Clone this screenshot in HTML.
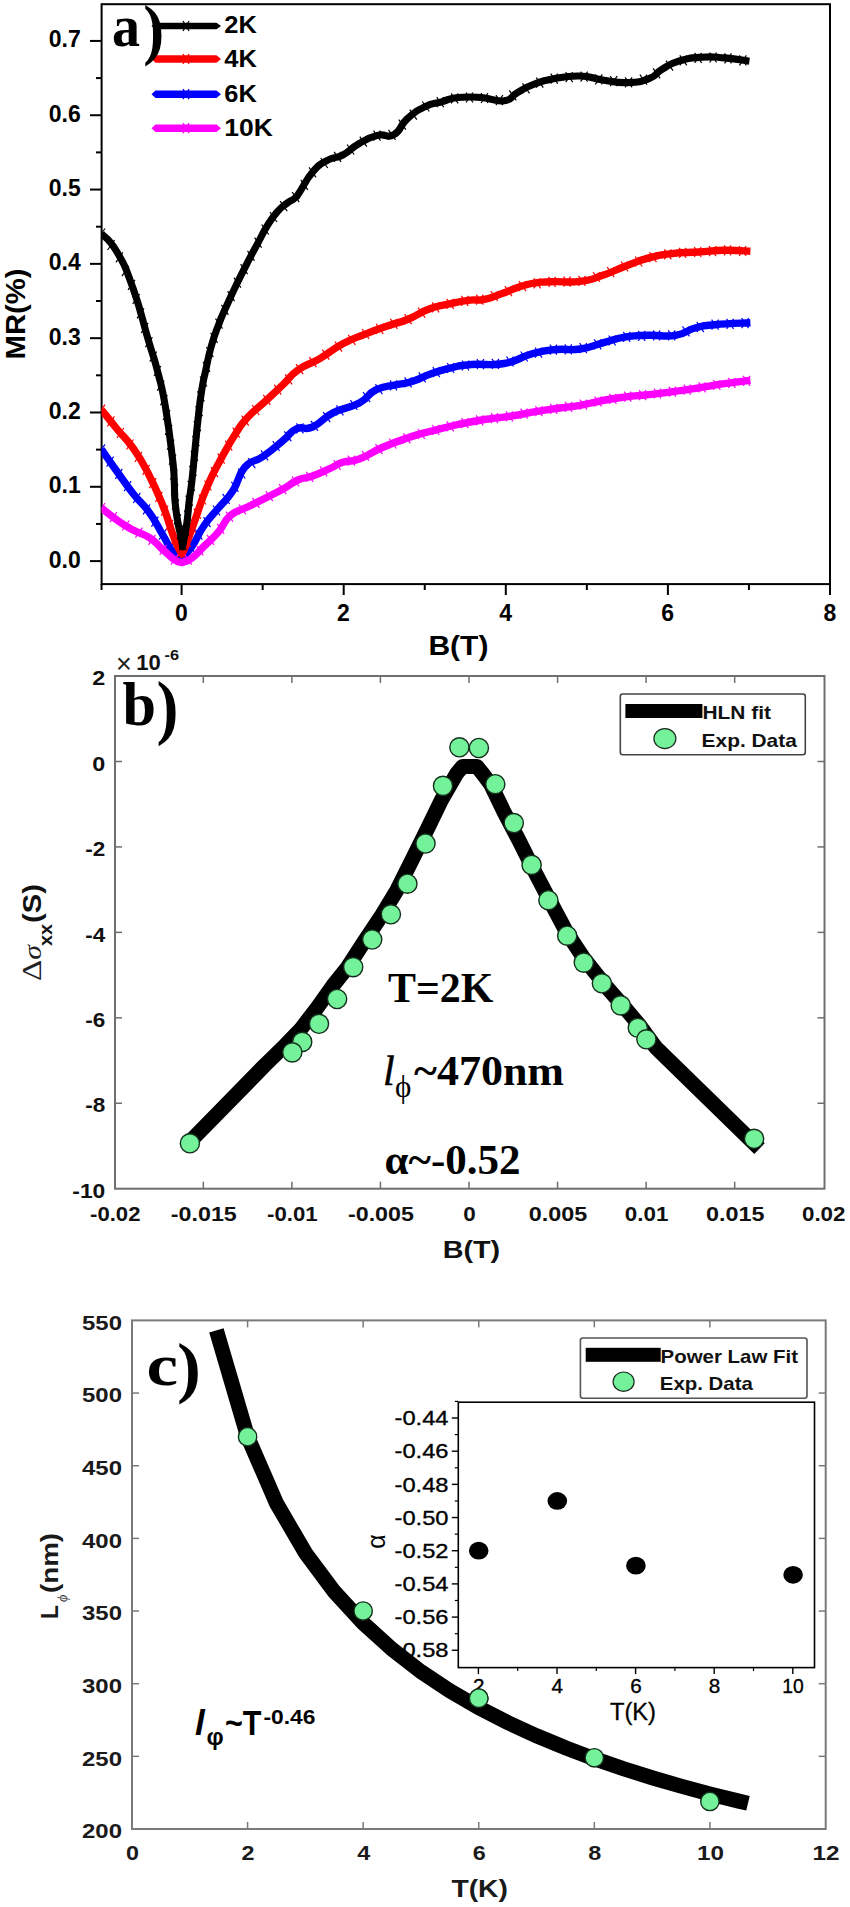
<!DOCTYPE html>
<html><head><meta charset="utf-8"><title>Figure</title>
<style>html,body{margin:0;padding:0;background:#fff}svg{display:block}</style>
</head><body>
<svg width="850" height="1907" viewBox="0 0 850 1907">
<rect width="850" height="1907" fill="#fff"/>
<rect x="101.6" y="4.2" width="728.4" height="579.9" fill="none" stroke="#000" stroke-width="2"/>
<line x1="90" y1="561.1" x2="101.6" y2="561.1" stroke="#000" stroke-width="2" />
<text x="80.8" y="567.6" font-size="23" font-weight="bold" text-anchor="end" font-family="Liberation Sans, sans-serif" fill="#000" >0.0</text>
<line x1="90" y1="486.79" x2="101.6" y2="486.79" stroke="#000" stroke-width="2" />
<text x="80.8" y="493.29" font-size="23" font-weight="bold" text-anchor="end" font-family="Liberation Sans, sans-serif" fill="#000" >0.1</text>
<line x1="90" y1="412.48" x2="101.6" y2="412.48" stroke="#000" stroke-width="2" />
<text x="80.8" y="418.98" font-size="23" font-weight="bold" text-anchor="end" font-family="Liberation Sans, sans-serif" fill="#000" >0.2</text>
<line x1="90" y1="338.17" x2="101.6" y2="338.17" stroke="#000" stroke-width="2" />
<text x="80.8" y="344.67" font-size="23" font-weight="bold" text-anchor="end" font-family="Liberation Sans, sans-serif" fill="#000" >0.3</text>
<line x1="90" y1="263.86" x2="101.6" y2="263.86" stroke="#000" stroke-width="2" />
<text x="80.8" y="270.36" font-size="23" font-weight="bold" text-anchor="end" font-family="Liberation Sans, sans-serif" fill="#000" >0.4</text>
<line x1="90" y1="189.55" x2="101.6" y2="189.55" stroke="#000" stroke-width="2" />
<text x="80.8" y="196.05" font-size="23" font-weight="bold" text-anchor="end" font-family="Liberation Sans, sans-serif" fill="#000" >0.5</text>
<line x1="90" y1="115.24000000000001" x2="101.6" y2="115.24000000000001" stroke="#000" stroke-width="2" />
<text x="80.8" y="121.74000000000001" font-size="23" font-weight="bold" text-anchor="end" font-family="Liberation Sans, sans-serif" fill="#000" >0.6</text>
<line x1="90" y1="40.930000000000064" x2="101.6" y2="40.930000000000064" stroke="#000" stroke-width="2" />
<text x="80.8" y="47.430000000000064" font-size="23" font-weight="bold" text-anchor="end" font-family="Liberation Sans, sans-serif" fill="#000" >0.7</text>
<line x1="96" y1="523.945" x2="101.6" y2="523.945" stroke="#000" stroke-width="2" />
<line x1="96" y1="449.635" x2="101.6" y2="449.635" stroke="#000" stroke-width="2" />
<line x1="96" y1="375.32500000000005" x2="101.6" y2="375.32500000000005" stroke="#000" stroke-width="2" />
<line x1="96" y1="301.01500000000004" x2="101.6" y2="301.01500000000004" stroke="#000" stroke-width="2" />
<line x1="96" y1="226.70499999999998" x2="101.6" y2="226.70499999999998" stroke="#000" stroke-width="2" />
<line x1="96" y1="152.39499999999998" x2="101.6" y2="152.39499999999998" stroke="#000" stroke-width="2" />
<line x1="96" y1="78.08499999999998" x2="101.6" y2="78.08499999999998" stroke="#000" stroke-width="2" />
<line x1="181.6" y1="584.1" x2="181.6" y2="595" stroke="#000" stroke-width="2" />
<text x="181.4" y="620.7" font-size="23" font-weight="bold" text-anchor="middle" font-family="Liberation Sans, sans-serif" fill="#000" >0</text>
<line x1="343.7" y1="584.1" x2="343.7" y2="595" stroke="#000" stroke-width="2" />
<text x="343.5" y="620.7" font-size="23" font-weight="bold" text-anchor="middle" font-family="Liberation Sans, sans-serif" fill="#000" >2</text>
<line x1="505.79999999999995" y1="584.1" x2="505.79999999999995" y2="595" stroke="#000" stroke-width="2" />
<text x="505.59999999999997" y="620.7" font-size="23" font-weight="bold" text-anchor="middle" font-family="Liberation Sans, sans-serif" fill="#000" >4</text>
<line x1="667.9" y1="584.1" x2="667.9" y2="595" stroke="#000" stroke-width="2" />
<text x="667.6999999999999" y="620.7" font-size="23" font-weight="bold" text-anchor="middle" font-family="Liberation Sans, sans-serif" fill="#000" >6</text>
<line x1="830.0" y1="584.1" x2="830.0" y2="595" stroke="#000" stroke-width="2" />
<text x="829.8" y="620.7" font-size="23" font-weight="bold" text-anchor="middle" font-family="Liberation Sans, sans-serif" fill="#000" >8</text>
<line x1="101.55" y1="584.1" x2="101.55" y2="590" stroke="#000" stroke-width="2" />
<line x1="262.65" y1="584.1" x2="262.65" y2="590" stroke="#000" stroke-width="2" />
<line x1="424.75" y1="584.1" x2="424.75" y2="590" stroke="#000" stroke-width="2" />
<line x1="586.85" y1="584.1" x2="586.85" y2="590" stroke="#000" stroke-width="2" />
<line x1="748.95" y1="584.1" x2="748.95" y2="590" stroke="#000" stroke-width="2" />
<text x="458.4" y="655" font-size="28" font-weight="bold" text-anchor="middle" font-family="Liberation Sans, sans-serif" fill="#000" textLength="60" lengthAdjust="spacingAndGlyphs" >B(T)</text>
<text transform="translate(24.6,314) rotate(-90)" textLength="91" lengthAdjust="spacingAndGlyphs" font-size="27" font-weight="bold" text-anchor="middle" font-family="Liberation Sans, sans-serif">MR(%)</text>
<clipPath id="ca"><rect x="101.6" y="4.2" width="728.4" height="579.9"/></clipPath>
<g clip-path="url(#ca)">
<path d="M101.5,449.4C105.6,455.3 108.6,459.7 117.0,471.5C125.4,483.3 124.4,482.5 133.0,493.5C141.6,504.5 141.5,501.6 149.4,512.6C157.3,523.6 156.3,524.2 162.6,534.7C168.9,545.2 168.0,545.8 173.0,552.0C178.0,558.2 179.2,556.4 181.5,558.0C184.3,554.9 186.1,555.0 192.0,546.5C197.9,538.0 196.7,536.3 203.8,526.0C210.9,515.7 210.7,517.4 218.5,508.0C226.3,498.6 225.9,501.5 233.0,490.6C240.1,479.7 237.1,476.0 245.0,467.0C252.9,458.0 252.5,463.8 262.6,456.8C272.7,449.8 274.0,448.1 283.0,440.6C292.0,433.1 288.6,432.4 296.5,428.8C304.4,425.2 302.9,431.2 312.6,427.0C322.3,422.8 320.5,419.3 333.0,412.9C345.5,406.5 347.9,409.1 359.3,403.0C370.7,396.9 366.1,394.7 375.8,389.9C385.5,385.1 385.8,387.1 395.5,384.9C405.2,382.7 402.3,384.7 412.0,381.6C421.7,378.5 421.3,377.1 431.8,373.4C442.3,369.7 441.0,370.2 451.5,367.8C462.0,365.4 457.2,365.6 471.3,364.5C485.4,363.4 488.4,366.2 504.2,363.5C520.0,360.8 517.4,358.0 530.6,354.3C543.8,350.6 540.4,351.1 553.6,349.7C566.8,348.3 566.9,350.8 580.0,349.0C593.1,347.2 590.6,346.1 602.8,342.9C615.0,339.7 613.6,338.9 625.9,336.9C638.2,334.9 635.7,335.7 648.9,335.3C662.1,334.9 663.0,337.2 675.3,335.3C687.6,333.4 684.5,330.8 695.0,328.0C705.5,325.2 700.0,326.1 714.8,324.7C729.6,323.3 740.9,323.3 750.4,322.8" fill="none" stroke="#00f" stroke-width="7.4" stroke-linejoin="round" stroke-linecap="butt"/>
<path d="M98.0,444.4L105.0,454.4M105.0,444.4L98.0,454.4M106.6,456.7L113.6,466.7M113.6,456.7L106.6,466.7M115.3,468.9L122.3,478.9M122.3,468.9L115.3,478.9M124.1,481.1L131.1,491.1M131.1,481.1L124.1,491.1M133.3,492.9L140.3,502.9M140.3,492.9L133.3,502.9M143.1,504.3L150.1,514.3M150.1,504.3L143.1,514.3M151.4,516.7L158.4,526.7M158.4,516.7L151.4,526.7M159.0,529.6L166.0,539.6M166.0,529.6L159.0,539.6M166.8,542.5L173.8,552.5M173.8,542.5L166.8,552.5M177.4,552.6L184.4,562.6M184.4,552.6L177.4,562.6M187.6,542.4L194.6,552.4M194.6,542.4L187.6,552.4M195.3,529.6L202.3,539.6M202.3,529.6L195.3,539.6M203.5,517.1L210.5,527.1M210.5,517.1L203.5,527.1M213.0,505.5L220.0,515.5M220.0,505.5L213.0,515.5M222.6,493.9L229.6,503.9M229.6,493.9L222.6,503.9M231.4,481.9L238.4,491.9M238.4,481.9L231.4,491.9M238.2,468.5L245.2,478.5M245.2,468.5L238.2,478.5M248.2,458.1L255.2,468.1M255.2,458.1L248.2,468.1M261.0,450.3L268.0,460.3M268.0,450.3L261.0,460.3M272.7,441.0L279.7,451.0M279.7,441.0L272.7,451.0M284.3,431.4L291.3,441.4M291.3,431.4L284.3,441.4M296.4,423.4L303.4,433.4M303.4,423.4L296.4,433.4M310.9,420.8L317.9,430.8M317.9,420.8L310.9,430.8M323.2,412.2L330.2,422.2M330.2,412.2L323.2,422.2M336.4,405.3L343.4,415.3M343.4,405.3L336.4,415.3M350.4,400.0L357.4,410.0M357.4,400.0L350.4,410.0M363.1,392.2L370.1,402.2M370.1,392.2L363.1,402.2M375.4,384.1L382.4,394.1M382.4,384.1L375.4,394.1M390.0,380.4L397.0,390.4M397.0,380.4L390.0,390.4M404.6,377.4L411.6,387.4M411.6,377.4L404.6,387.4M418.7,372.4L425.7,382.4M425.7,372.4L418.7,382.4M432.8,367.1L439.8,377.1M439.8,367.1L432.8,377.1M447.2,363.0L454.2,373.0M454.2,363.0L447.2,373.0M462.0,360.5L469.0,370.5M469.0,360.5L462.0,370.5M476.9,359.2L483.9,369.2M483.9,359.2L476.9,369.2M491.9,358.8L498.9,368.8M498.9,358.8L491.9,368.8M506.5,356.5L513.5,366.5M513.5,356.5L506.5,366.5M520.7,351.5L527.7,361.5M527.7,351.5L520.7,361.5M535.1,347.7L542.1,357.7M542.1,347.7L535.1,357.7M549.9,344.7L556.9,354.7M556.9,344.7L549.9,354.7M564.8,344.3L571.8,354.3M571.8,344.3L564.8,354.3M579.7,343.1L586.7,353.1M586.7,343.1L579.7,353.1M594.2,339.3L601.2,349.3M601.2,339.3L594.2,349.3M608.7,335.5L615.7,345.5M615.7,335.5L608.7,345.5M623.3,331.8L630.3,341.8M630.3,331.8L623.3,341.8M638.2,330.8L645.2,340.8M645.2,330.8L638.2,340.8M653.2,330.3L660.2,340.3M660.2,330.3L653.2,340.3M668.2,330.3L675.2,340.3M675.2,330.3L668.2,340.3M682.5,326.3L689.5,336.3M689.5,326.3L682.5,336.3M696.8,322.1L703.8,332.1M703.8,322.1L696.8,332.1M711.6,319.7L718.6,329.7M718.6,319.7L711.6,329.7M726.6,318.9L733.6,328.9M733.6,318.9L726.6,328.9M741.6,318.1L748.6,328.1M748.6,318.1L741.6,328.1" stroke="#00f" stroke-width="1.2" fill="none"/>
<path d="M101.5,409.7C105.6,414.8 108.6,418.8 117.0,429.0C125.4,439.2 124.7,436.3 133.0,448.0C141.3,459.7 140.1,457.8 148.0,473.0C155.9,488.2 155.9,488.5 162.6,505.0C169.3,521.5 168.5,523.0 173.0,535.0C177.5,547.0 177.1,544.9 179.5,550.0C181.9,555.1 181.3,552.9 182.0,554.0C183.1,551.6 182.5,554.1 186.0,545.0C189.5,535.9 189.5,535.3 195.0,520.0C200.5,504.7 199.7,504.1 206.8,487.6C213.9,471.1 213.7,472.6 221.5,458.0C229.3,443.4 228.9,443.9 236.0,433.0C243.1,422.1 240.1,425.5 248.0,417.0C255.9,408.5 256.3,409.6 265.6,401.0C274.9,392.4 274.4,393.0 283.0,384.7C291.6,376.4 288.2,377.0 298.0,370.0C307.8,363.0 307.9,365.6 319.8,358.6C331.7,351.6 330.5,350.4 342.8,343.8C355.1,337.2 353.6,338.8 365.9,333.9C378.2,329.0 377.5,329.6 388.9,325.6C400.3,321.6 398.1,323.4 408.7,319.0C419.3,314.6 418.0,313.1 428.5,309.2C439.0,305.3 437.7,306.6 448.2,304.2C458.7,301.8 458.3,301.6 468.0,300.3C477.7,299.0 474.8,301.3 484.5,299.3C494.2,297.3 492.8,296.6 504.2,292.7C515.6,288.8 515.0,287.4 527.3,284.5C539.6,281.6 536.2,282.6 550.3,281.8C564.4,281.0 566.0,283.1 580.0,281.4C594.0,279.7 590.6,279.4 602.8,275.3C615.0,271.2 613.6,270.6 625.9,266.0C638.2,261.4 636.6,261.2 648.9,257.9C661.2,254.6 658.8,255.2 672.0,253.6C685.2,252.0 684.2,252.9 698.3,252.0C712.4,251.1 710.8,250.5 724.7,250.3C738.6,250.1 743.5,251.0 750.4,251.3" fill="none" stroke="#f00" stroke-width="7.4" stroke-linejoin="round" stroke-linecap="butt"/>
<path d="M98.0,404.7L105.0,414.7M105.0,404.7L98.0,414.7M107.4,416.4L114.4,426.4M114.4,416.4L107.4,426.4M116.9,428.0L123.9,438.0M123.9,428.0L116.9,438.0M126.5,439.5L133.5,449.5M133.5,439.5L126.5,449.5M134.9,451.9L141.9,461.9M141.9,451.9L134.9,461.9M142.6,464.8L149.6,474.8M149.6,464.8L142.6,474.8M149.2,478.2L156.2,488.2M156.2,478.2L149.2,488.2M155.4,491.9L162.4,501.9M162.4,491.9L155.4,501.9M161.1,505.7L168.1,515.7M168.1,505.7L161.1,515.7M166.0,519.9L173.0,529.9M173.0,519.9L166.0,529.9M171.2,534.0L178.2,544.0M178.2,534.0L171.2,544.0M177.6,547.5L184.6,557.5M184.6,547.5L177.6,557.5M183.7,536.8L190.7,546.8M190.7,536.8L183.7,546.8M188.7,522.7L195.7,532.7M195.7,522.7L188.7,532.7M193.8,508.6L200.8,518.6M200.8,508.6L193.8,518.6M199.0,494.5L206.0,504.5M206.0,494.5L199.0,504.5M204.4,480.5L211.4,490.5M211.4,480.5L204.4,490.5M211.0,467.1L218.0,477.1M218.0,467.1L211.0,477.1M217.7,453.6L224.7,463.6M224.7,453.6L217.7,463.6M225.2,440.6L232.2,450.6M232.2,440.6L225.2,450.6M232.7,427.7L239.7,437.7M239.7,427.7L232.7,437.7M241.7,415.7L248.7,425.7M248.7,415.7L241.7,425.7M252.2,405.0L259.2,415.0M259.2,405.0L252.2,415.0M263.3,394.9L270.3,404.9M270.3,394.9L263.3,404.9M274.2,384.6L281.2,394.6M281.2,384.6L274.2,394.6M285.1,374.3L292.1,384.3M292.1,374.3L285.1,384.3M296.1,364.2L303.1,374.2M303.1,364.2L296.1,374.2M309.4,357.2L316.4,367.2M316.4,357.2L309.4,367.2M322.3,349.7L329.3,359.7M329.3,349.7L322.3,359.7M335.0,341.6L342.0,351.6M342.0,341.6L335.0,351.6M348.3,334.9L355.3,344.9M355.3,334.9L348.3,344.9M362.1,329.0L369.1,339.0M369.1,329.0L362.1,339.0M376.2,323.9L383.2,333.9M383.2,323.9L376.2,333.9M390.4,318.9L397.4,328.9M397.4,318.9L390.4,328.9M404.6,314.2L411.6,324.2M411.6,314.2L404.6,324.2M418.1,307.6L425.1,317.6M425.1,307.6L418.1,317.6M432.1,302.4L439.1,312.4M439.1,302.4L432.1,312.4M446.6,298.8L453.6,308.8M453.6,298.8L446.6,308.8M461.3,295.9L468.3,305.9M468.3,295.9L461.3,305.9M476.3,294.6L483.3,304.6M483.3,294.6L476.3,304.6M490.7,291.0L497.7,301.0M497.7,291.0L490.7,301.0M504.9,286.2L511.9,296.2M511.9,286.2L504.9,296.2M519.0,281.2L526.0,291.2M526.0,281.2L519.0,291.2M533.7,278.3L540.7,288.3M540.7,278.3L533.7,288.3M548.6,276.8L555.6,286.8M555.6,276.8L548.6,286.8M563.6,276.6L570.6,286.6M570.6,276.6L563.6,286.6M578.5,275.9L585.5,285.9M585.5,275.9L578.5,285.9M593.0,272.0L600.0,282.0M600.0,272.0L593.0,282.0M607.2,267.1L614.2,277.1M614.2,267.1L607.2,277.1M621.1,261.5L628.1,271.5M628.1,261.5L621.1,271.5M635.2,256.5L642.2,266.5M642.2,256.5L635.2,266.5M649.5,252.1L656.5,262.1M656.5,252.1L649.5,262.1M664.3,249.4L671.3,259.4M671.3,249.4L664.3,259.4M679.2,247.9L686.2,257.9M686.2,247.9L679.2,257.9M694.2,247.0L701.2,257.0M701.2,247.0L694.2,257.0M709.1,246.1L716.1,256.1M716.1,246.1L709.1,256.1M724.1,245.4L731.1,255.4M731.1,245.4L724.1,255.4M739.1,246.0L746.1,256.0M746.1,246.0L739.1,256.0" stroke="#f00" stroke-width="1.2" fill="none"/>
<path d="M101.5,233.5C105.6,238.4 108.5,237.3 117.0,252.0C125.5,266.7 124.9,265.6 133.2,288.8C141.5,312.0 141.4,316.5 148.0,339.0C154.6,361.5 153.3,354.6 158.0,373.0C162.7,391.4 161.8,385.3 165.6,408.0C169.4,430.7 170.1,438.8 172.4,458.0C174.7,477.2 173.5,468.5 174.2,480.0C174.9,491.5 174.0,489.8 175.0,501.0C176.0,512.2 176.2,512.4 177.8,522.0C179.4,531.6 179.7,530.3 181.0,537.0C182.3,543.7 182.2,544.3 182.6,547.0C183.1,544.3 183.2,543.7 184.4,537.0C185.6,530.3 185.7,531.6 187.0,522.0C188.3,512.4 187.9,512.2 189.2,501.0C190.5,489.8 190.5,493.7 192.0,480.0C193.5,466.3 193.4,465.6 195.0,449.7C196.6,433.8 196.1,436.0 197.9,420.3C199.7,404.6 199.4,404.7 201.6,391.0C203.8,377.3 203.5,380.7 206.0,368.9C208.5,357.1 207.8,358.6 211.1,346.9C214.4,335.2 214.0,336.7 218.5,324.9C223.0,313.1 222.9,314.2 228.0,302.8C233.1,291.4 232.3,293.3 237.6,282.3C242.9,271.3 242.4,272.3 247.9,261.7C253.4,251.1 253.0,252.0 258.1,242.6C263.2,233.2 261.8,234.6 266.9,226.4C272.0,218.2 271.7,218.1 277.2,211.8C282.7,205.5 282.8,206.6 287.5,202.9C292.2,199.2 291.7,201.1 295.0,198.0C298.3,194.9 295.2,198.4 300.0,191.4C304.8,184.4 305.5,180.0 313.0,171.6C320.5,163.2 320.1,164.4 328.0,160.0C335.9,155.6 334.5,159.4 342.8,155.0C351.1,150.6 349.8,148.8 359.0,143.6C368.2,138.4 368.1,137.8 377.4,135.4C386.7,133.0 386.0,139.1 393.9,134.7C401.8,130.3 398.7,126.5 407.0,119.0C415.3,111.5 415.8,111.3 425.0,106.7C434.2,102.1 432.8,104.3 441.6,101.8C450.4,99.3 447.5,98.6 458.0,97.5C468.5,96.4 468.7,96.6 481.0,97.5C493.3,98.4 494.3,102.1 504.0,100.8C513.7,99.5 509.4,97.0 517.4,92.6C525.4,88.2 524.2,88.0 533.9,84.3C543.6,80.6 541.3,80.9 553.6,78.7C565.9,76.5 566.9,75.7 580.0,76.0C593.1,76.3 590.1,78.2 602.8,80.0C615.5,81.8 615.2,83.0 627.5,82.6C639.8,82.2 639.8,82.1 649.0,78.6C658.2,75.1 654.1,74.0 662.0,69.4C669.9,64.8 668.0,64.5 678.6,61.2C689.2,57.9 689.3,58.1 701.6,57.2C713.9,56.3 712.0,56.8 724.7,57.9C737.4,59.0 742.8,60.3 749.4,61.2" fill="none" stroke="#000" stroke-width="7.1" stroke-linejoin="round" stroke-linecap="butt"/>
<path d="M98.0,228.5L105.0,238.5M105.0,228.5L98.0,238.5M107.6,240.0L114.6,250.0M114.6,240.0L107.6,250.0M115.9,252.4L122.9,262.4M122.9,252.4L115.9,262.4M121.9,266.1L128.9,276.1M128.9,266.1L121.9,276.1M128.0,279.8L135.0,289.8M135.0,279.8L128.0,289.8M132.7,294.0L139.7,304.0M139.7,294.0L132.7,304.0M137.0,308.4L144.0,318.4M144.0,308.4L137.0,318.4M141.2,322.8L148.2,332.8M148.2,322.8L141.2,332.8M145.4,337.2L152.4,347.2M152.4,337.2L145.4,347.2M149.7,351.6L156.7,361.6M156.7,351.6L149.7,361.6M153.9,366.0L160.9,376.0M160.9,366.0L153.9,376.0M157.2,380.6L164.2,390.6M164.2,380.6L157.2,390.6M160.4,395.2L167.4,405.2M167.4,395.2L160.4,405.2M163.1,410.0L170.1,420.0M170.1,410.0L163.1,420.0M165.1,424.9L172.1,434.9M172.1,424.9L165.1,434.9M167.1,439.7L174.1,449.7M174.1,439.7L167.1,449.7M169.0,454.6L176.0,464.6M176.0,454.6L169.0,464.6M170.3,469.5L177.3,479.5M177.3,469.5L170.3,479.5M171.1,484.5L178.1,494.5M178.1,484.5L171.1,494.5M172.0,499.5L179.0,509.5M179.0,499.5L172.0,509.5M173.9,514.4L180.9,524.4M180.9,514.4L173.9,524.4M176.9,529.1L183.9,539.1M183.9,529.1L176.9,539.1M179.4,540.2L186.4,550.2M186.4,540.2L179.4,550.2M182.0,525.4L189.0,535.4M189.0,525.4L182.0,535.4M184.2,510.6L191.2,520.6M191.2,510.6L184.2,520.6M185.7,495.6L192.7,505.6M192.7,495.6L185.7,505.6M187.7,480.8L194.7,490.8M194.7,480.8L187.7,490.8M189.4,465.9L196.4,475.9M196.4,465.9L189.4,475.9M190.9,450.9L197.9,460.9M197.9,450.9L190.9,460.9M192.4,436.0L199.4,446.0M199.4,436.0L192.4,446.0M193.8,421.1L200.8,431.1M200.8,421.1L193.8,431.1M195.6,406.2L202.6,416.2M202.6,406.2L195.6,416.2M197.4,391.3L204.4,401.3M204.4,391.3L197.4,401.3M200.0,376.5L207.0,386.5M207.0,376.5L200.0,386.5M203.0,361.8L210.0,371.8M210.0,361.8L203.0,371.8M206.4,347.2L213.4,357.2M213.4,347.2L206.4,357.2M210.6,332.9L217.6,342.9M217.6,332.9L210.6,342.9M215.5,318.7L222.5,328.7M222.5,318.7L215.5,328.7M221.4,304.9L228.4,314.9M228.4,304.9L221.4,314.9M227.6,291.2L234.6,301.2M234.6,291.2L227.6,301.2M233.9,277.6L240.9,287.6M240.9,277.6L233.9,287.6M240.6,264.2L247.6,274.2M247.6,264.2L240.6,274.2M247.5,250.9L254.5,260.9M254.5,250.9L247.5,260.9M254.6,237.6L261.6,247.6M261.6,237.6L254.6,247.6M261.7,224.5L268.7,234.5M268.7,224.5L261.7,234.5M270.0,212.0L277.0,222.0M277.0,212.0L270.0,222.0M280.2,201.1L287.2,211.1M287.2,201.1L280.2,211.1M292.2,192.1L299.2,202.1M299.2,192.1L292.2,202.1M300.8,179.9L307.8,189.9M307.8,179.9L300.8,189.9M309.0,167.3L316.0,177.3M316.0,167.3L309.0,177.3M320.7,158.0L327.7,168.0M327.7,158.0L320.7,168.0M334.1,151.8L341.1,161.8M341.1,151.8L334.1,161.8M347.1,144.5L354.1,154.5M354.1,144.5L347.1,154.5M359.8,136.7L366.8,146.7M366.8,136.7L359.8,146.7M373.5,130.6L380.5,140.6M380.5,130.6L373.5,140.6M388.5,129.8L395.5,139.8M395.5,129.8L388.5,139.8M398.8,119.7L405.8,129.7M405.8,119.7L398.8,129.7M409.8,109.7L416.8,119.7M416.8,109.7L409.8,119.7M422.3,101.5L429.3,111.5M429.3,101.5L422.3,111.5M436.7,97.2L443.7,107.2M443.7,97.2L436.7,107.2M451.2,93.4L458.2,103.4M458.2,93.4L451.2,103.4M466.0,92.5L473.0,102.5M473.0,92.5L466.0,102.5M481.0,93.0L488.0,103.0M488.0,93.0L481.0,103.0M495.9,95.1L502.9,105.1M502.9,95.1L495.9,105.1M509.3,90.4L516.3,100.4M516.3,90.4L509.3,100.4M522.5,83.3L529.5,93.3M529.5,83.3L522.5,93.3M536.3,77.6L543.3,87.6M543.3,77.6L536.3,87.6M550.7,73.6L557.7,83.6M557.7,73.6L550.7,83.6M565.7,72.1L572.7,82.1M572.7,72.1L565.7,82.1M580.6,71.7L587.6,81.7M587.6,71.7L580.6,81.7M595.3,74.3L602.3,84.3M602.3,74.3L595.3,84.3M610.2,76.1L617.2,86.1M617.2,76.1L610.2,86.1M625.1,77.4L632.1,87.4M632.1,77.4L625.1,87.4M639.9,74.6L646.9,84.6M646.9,74.6L639.9,84.6M653.1,68.3L660.1,78.3M660.1,68.3L653.1,78.3M666.0,60.7L673.0,70.7M673.0,60.7L666.0,70.7M679.8,55.4L686.8,65.4M686.8,55.4L679.8,65.4M694.6,52.8L701.6,62.8M701.6,52.8L694.6,62.8M709.6,52.5L716.6,62.5M716.6,52.5L709.6,62.5M724.5,53.3L731.5,63.3M731.5,53.3L724.5,63.3M739.4,55.3L746.4,65.3M746.4,55.3L739.4,65.3" stroke="#000" stroke-width="1.2" fill="none"/>
<path d="M101.5,508.0C105.6,511.2 108.6,514.1 117.0,520.0C125.4,525.9 124.4,525.3 133.0,530.0C141.6,534.7 141.5,532.4 149.4,537.6C157.3,542.8 155.9,543.5 162.6,549.4C169.3,555.3 169.3,556.2 174.4,559.7C179.5,563.2 179.8,561.8 181.8,562.6C184.5,561.4 186.1,562.3 192.0,558.0C197.9,553.7 196.7,553.5 203.8,546.5C210.9,539.5 211.4,540.0 218.5,531.8C225.6,523.6 222.4,522.3 230.3,515.6C238.2,508.9 238.6,511.5 248.0,506.8C257.4,502.1 256.3,502.7 265.6,498.0C274.9,493.3 274.4,493.8 283.0,489.0C291.6,484.2 290.1,483.5 298.0,480.0C305.9,476.5 304.1,479.1 312.6,476.0C321.1,472.9 321.9,472.2 330.0,468.5C338.1,464.8 335.0,464.8 342.8,462.3C350.6,459.8 348.8,462.9 359.3,459.0C369.8,455.1 369.1,453.2 382.3,447.5C395.5,441.8 395.5,442.0 408.7,437.6C421.9,433.2 418.7,434.5 431.8,431.0C444.9,427.5 443.9,427.6 458.0,424.5C472.1,421.4 470.4,421.7 484.5,419.5C498.6,417.3 496.7,418.4 510.8,416.2C524.9,414.0 524.0,413.5 537.2,411.3C550.4,409.1 548.8,409.6 560.2,408.0C571.6,406.4 568.6,407.4 580.0,405.4C591.4,403.4 590.6,402.8 602.8,400.5C615.0,398.2 613.6,398.5 625.9,396.9C638.2,395.3 635.7,396.1 648.9,394.6C662.1,393.1 662.1,393.1 675.3,391.3C688.5,389.5 685.1,390.0 698.3,388.0C711.5,386.0 710.8,385.7 724.7,383.7C738.6,381.7 743.5,381.3 750.4,380.4" fill="none" stroke="#f0f" stroke-width="7.4" stroke-linejoin="round" stroke-linecap="butt"/>
<path d="M98.0,503.0L105.0,513.0M105.0,503.0L98.0,513.0M109.9,512.2L116.9,522.2M116.9,512.2L109.9,522.2M122.3,520.5L129.3,530.5M129.3,520.5L122.3,530.5M135.4,527.7L142.4,537.7M142.4,527.7L135.4,537.7M148.5,534.9L155.5,544.9M155.5,534.9L148.5,544.9M159.7,544.9L166.7,554.9M166.7,544.9L159.7,554.9M171.0,554.7L178.0,564.7M178.0,554.7L171.0,564.7M184.8,554.7L191.8,564.7M191.8,554.7L184.8,564.7M196.3,545.4L203.3,555.4M203.3,545.4L196.3,555.4M207.0,534.8L214.0,544.8M214.0,534.8L207.0,544.8M217.2,523.8L224.2,533.8M224.2,523.8L217.2,533.8M226.0,511.7L233.0,521.7M233.0,511.7L226.0,521.7M239.0,504.5L246.0,514.5M246.0,504.5L239.0,514.5M252.4,497.8L259.4,507.8M259.4,497.8L252.4,507.8M265.8,491.1L272.8,501.1M272.8,491.1L265.8,501.1M279.2,484.2L286.2,494.2M286.2,484.2L279.2,494.2M292.0,476.5L299.0,486.5M299.0,476.5L292.0,486.5M306.2,471.8L313.2,481.8M313.2,471.8L306.2,481.8M320.1,466.3L327.1,476.3M327.1,466.3L320.1,476.3M333.7,460.0L340.7,470.0M340.7,460.0L333.7,470.0M347.9,455.6L354.9,465.6M354.9,455.6L347.9,465.6M362.0,450.9L369.0,460.9M369.0,450.9L362.0,460.9M375.5,444.2L382.5,454.2M382.5,444.2L375.5,454.2M389.3,438.5L396.3,448.5M396.3,438.5L389.3,448.5M403.4,433.3L410.4,443.3M410.4,433.3L403.4,443.3M417.8,429.0L424.8,439.0M424.8,429.0L417.8,439.0M432.2,425.0L439.2,435.0M439.2,425.0L432.2,435.0M446.8,421.4L453.8,431.4M453.8,421.4L446.8,431.4M461.4,418.2L468.4,428.2M468.4,418.2L461.4,428.2M476.2,415.4L483.2,425.4M483.2,415.4L476.2,425.4M491.0,413.2L498.0,423.2M498.0,413.2L491.0,423.2M505.9,411.4L512.9,421.4M512.9,411.4L505.9,421.4M520.6,408.7L527.6,418.7M527.6,408.7L520.6,418.7M535.4,406.1L542.4,416.1M542.4,406.1L535.4,416.1M550.3,403.9L557.3,413.9M557.3,403.9L550.3,413.9M565.1,401.9L572.1,411.9M572.1,401.9L565.1,411.9M579.9,399.7L586.9,409.7M586.9,399.7L579.9,409.7M594.6,396.5L601.6,406.5M601.6,396.5L594.6,406.5M609.4,393.9L616.4,403.9M616.4,393.9L609.4,403.9M624.2,391.7L631.2,401.7M631.2,391.7L624.2,401.7M639.1,390.2L646.1,400.2M646.1,390.2L639.1,400.2M654.0,388.5L661.0,398.5M661.0,388.5L654.0,398.5M668.9,386.7L675.9,396.7M675.9,386.7L668.9,396.7M683.8,384.6L690.8,394.6M690.8,384.6L683.8,394.6M698.6,382.4L705.6,392.4M705.6,382.4L698.6,392.4M713.4,380.0L720.4,390.0M720.4,380.0L713.4,390.0M728.3,377.8L735.3,387.8M735.3,377.8L728.3,387.8M743.1,375.9L750.1,385.9M750.1,375.9L743.1,385.9" stroke="#f0f" stroke-width="1.2" fill="none"/>
</g>
<path d="M151.5,26 l4,-3.25 h61 l4.5,3.25 l-4.5,3.25 h-61 z" fill="#000"/>
<path d="M183,21l6,10M189,21l-6,10" stroke="#000" stroke-width="1.3"/>
<text x="224.3" y="33" font-size="23" font-weight="bold" text-anchor="start" font-family="Liberation Sans, sans-serif" fill="#000" textLength="32.5" lengthAdjust="spacingAndGlyphs" >2K</text>
<path d="M151.5,59 l4,-3.75 h61 l4.5,3.75 l-4.5,3.75 h-61 z" fill="#f00"/>
<path d="M183,54l6,10M189,54l-6,10" stroke="#f00" stroke-width="1.3"/>
<text x="224.3" y="67" font-size="23" font-weight="bold" text-anchor="start" font-family="Liberation Sans, sans-serif" fill="#000" textLength="32.5" lengthAdjust="spacingAndGlyphs" >4K</text>
<path d="M151.5,94.2 l4,-3.75 h61 l4.5,3.75 l-4.5,3.75 h-61 z" fill="#00f"/>
<path d="M183,89.2l6,10M189,89.2l-6,10" stroke="#00f" stroke-width="1.3"/>
<text x="224.3" y="102" font-size="23" font-weight="bold" text-anchor="start" font-family="Liberation Sans, sans-serif" fill="#000" textLength="32.5" lengthAdjust="spacingAndGlyphs" >6K</text>
<path d="M151.5,128.2 l4,-3.75 h61 l4.5,3.75 l-4.5,3.75 h-61 z" fill="#f0f"/>
<path d="M183,123.19999999999999l6,10M189,123.19999999999999l-6,10" stroke="#f0f" stroke-width="1.3"/>
<text x="224.3" y="136" font-size="23" font-weight="bold" text-anchor="start" font-family="Liberation Sans, sans-serif" fill="#000" textLength="48.5" lengthAdjust="spacingAndGlyphs" >10K</text>
<text x="112" y="46" font-size="60" font-weight="bold" text-anchor="start" font-family="Liberation Serif, serif" fill="#000" textLength="28" lengthAdjust="spacingAndGlyphs" >a</text>
<text x="143.2" y="51.8" font-size="68" font-weight="bold" text-anchor="start" font-family="Liberation Serif, serif" fill="#000" textLength="21" lengthAdjust="spacingAndGlyphs" >)</text>
<rect x="115" y="676" width="709.5" height="512.7" fill="none" stroke="#6e6e6e" stroke-width="2"/>
<text x="105.3" y="685.26" font-size="19.5" font-weight="bold" text-anchor="end" font-family="Liberation Sans, sans-serif" fill="#111" textLength="13" lengthAdjust="spacingAndGlyphs" >2</text>
<line x1="115" y1="761.5" x2="122" y2="761.5" stroke="#6e6e6e" stroke-width="1.5" />
<line x1="817.5" y1="761.5" x2="824.5" y2="761.5" stroke="#6e6e6e" stroke-width="1.5" />
<text x="105.3" y="770.7" font-size="19.5" font-weight="bold" text-anchor="end" font-family="Liberation Sans, sans-serif" fill="#111" textLength="13" lengthAdjust="spacingAndGlyphs" >0</text>
<line x1="115" y1="846.94" x2="122" y2="846.94" stroke="#6e6e6e" stroke-width="1.5" />
<line x1="817.5" y1="846.94" x2="824.5" y2="846.94" stroke="#6e6e6e" stroke-width="1.5" />
<text x="105.3" y="856.1400000000001" font-size="19.5" font-weight="bold" text-anchor="end" font-family="Liberation Sans, sans-serif" fill="#111" textLength="20" lengthAdjust="spacingAndGlyphs" >-2</text>
<line x1="115" y1="932.38" x2="122" y2="932.38" stroke="#6e6e6e" stroke-width="1.5" />
<line x1="817.5" y1="932.38" x2="824.5" y2="932.38" stroke="#6e6e6e" stroke-width="1.5" />
<text x="105.3" y="941.58" font-size="19.5" font-weight="bold" text-anchor="end" font-family="Liberation Sans, sans-serif" fill="#111" textLength="20" lengthAdjust="spacingAndGlyphs" >-4</text>
<line x1="115" y1="1017.8199999999999" x2="122" y2="1017.8199999999999" stroke="#6e6e6e" stroke-width="1.5" />
<line x1="817.5" y1="1017.8199999999999" x2="824.5" y2="1017.8199999999999" stroke="#6e6e6e" stroke-width="1.5" />
<text x="105.3" y="1027.02" font-size="19.5" font-weight="bold" text-anchor="end" font-family="Liberation Sans, sans-serif" fill="#111" textLength="20" lengthAdjust="spacingAndGlyphs" >-6</text>
<line x1="115" y1="1103.26" x2="122" y2="1103.26" stroke="#6e6e6e" stroke-width="1.5" />
<line x1="817.5" y1="1103.26" x2="824.5" y2="1103.26" stroke="#6e6e6e" stroke-width="1.5" />
<text x="105.3" y="1112.46" font-size="19.5" font-weight="bold" text-anchor="end" font-family="Liberation Sans, sans-serif" fill="#111" textLength="20" lengthAdjust="spacingAndGlyphs" >-8</text>
<text x="105.3" y="1197.9" font-size="19.5" font-weight="bold" text-anchor="end" font-family="Liberation Sans, sans-serif" fill="#111" textLength="33" lengthAdjust="spacingAndGlyphs" >-10</text>
<text x="115.25999999999999" y="1221" font-size="19.5" font-weight="bold" text-anchor="middle" font-family="Liberation Sans, sans-serif" fill="#111" textLength="50.5" lengthAdjust="spacingAndGlyphs" >-0.02</text>
<line x1="203.32" y1="676" x2="203.32" y2="683" stroke="#6e6e6e" stroke-width="1.5" />
<line x1="203.32" y1="1181.7" x2="203.32" y2="1188.7" stroke="#6e6e6e" stroke-width="1.5" />
<text x="203.82" y="1221" font-size="19.5" font-weight="bold" text-anchor="middle" font-family="Liberation Sans, sans-serif" fill="#111" textLength="66" lengthAdjust="spacingAndGlyphs" >-0.015</text>
<line x1="291.88" y1="676" x2="291.88" y2="683" stroke="#6e6e6e" stroke-width="1.5" />
<line x1="291.88" y1="1181.7" x2="291.88" y2="1188.7" stroke="#6e6e6e" stroke-width="1.5" />
<text x="292.38" y="1221" font-size="19.5" font-weight="bold" text-anchor="middle" font-family="Liberation Sans, sans-serif" fill="#111" textLength="50.5" lengthAdjust="spacingAndGlyphs" >-0.01</text>
<line x1="380.44" y1="676" x2="380.44" y2="683" stroke="#6e6e6e" stroke-width="1.5" />
<line x1="380.44" y1="1181.7" x2="380.44" y2="1188.7" stroke="#6e6e6e" stroke-width="1.5" />
<text x="380.94" y="1221" font-size="19.5" font-weight="bold" text-anchor="middle" font-family="Liberation Sans, sans-serif" fill="#111" textLength="66" lengthAdjust="spacingAndGlyphs" >-0.005</text>
<line x1="469.0" y1="676" x2="469.0" y2="683" stroke="#6e6e6e" stroke-width="1.5" />
<line x1="469.0" y1="1181.7" x2="469.0" y2="1188.7" stroke="#6e6e6e" stroke-width="1.5" />
<text x="469.5" y="1221" font-size="19.5" font-weight="bold" text-anchor="middle" font-family="Liberation Sans, sans-serif" fill="#111" textLength="12.5" lengthAdjust="spacingAndGlyphs" >0</text>
<line x1="557.56" y1="676" x2="557.56" y2="683" stroke="#6e6e6e" stroke-width="1.5" />
<line x1="557.56" y1="1181.7" x2="557.56" y2="1188.7" stroke="#6e6e6e" stroke-width="1.5" />
<text x="558.06" y="1221" font-size="19.5" font-weight="bold" text-anchor="middle" font-family="Liberation Sans, sans-serif" fill="#111" textLength="58.5" lengthAdjust="spacingAndGlyphs" >0.005</text>
<line x1="646.12" y1="676" x2="646.12" y2="683" stroke="#6e6e6e" stroke-width="1.5" />
<line x1="646.12" y1="1181.7" x2="646.12" y2="1188.7" stroke="#6e6e6e" stroke-width="1.5" />
<text x="646.62" y="1221" font-size="19.5" font-weight="bold" text-anchor="middle" font-family="Liberation Sans, sans-serif" fill="#111" textLength="43.5" lengthAdjust="spacingAndGlyphs" >0.01</text>
<line x1="734.6800000000001" y1="676" x2="734.6800000000001" y2="683" stroke="#6e6e6e" stroke-width="1.5" />
<line x1="734.6800000000001" y1="1181.7" x2="734.6800000000001" y2="1188.7" stroke="#6e6e6e" stroke-width="1.5" />
<text x="735.1800000000001" y="1221" font-size="19.5" font-weight="bold" text-anchor="middle" font-family="Liberation Sans, sans-serif" fill="#111" textLength="58.5" lengthAdjust="spacingAndGlyphs" >0.015</text>
<text x="823.74" y="1221" font-size="19.5" font-weight="bold" text-anchor="middle" font-family="Liberation Sans, sans-serif" fill="#111" textLength="43.5" lengthAdjust="spacingAndGlyphs" >0.02</text>
<text x="471.4" y="1257.5" font-size="23" font-weight="bold" text-anchor="middle" font-family="Liberation Sans, sans-serif" fill="#111" textLength="57.5" lengthAdjust="spacingAndGlyphs" >B(T)</text>
<text x="116" y="672.5" font-size="27" font-family="Liberation Sans, sans-serif" fill="#222">×</text>
<text x="136.3" y="670.3" font-size="22" font-weight="bold" text-anchor="start" font-family="Liberation Sans, sans-serif" fill="#111" textLength="24.5" lengthAdjust="spacingAndGlyphs" >10</text>
<text x="164.5" y="659.8" font-size="15" font-weight="bold" text-anchor="start" font-family="Liberation Sans, sans-serif" fill="#111" textLength="14.5" lengthAdjust="spacingAndGlyphs" >-6</text>
<g transform="translate(40.5,981) rotate(-90)"><text x="0" y="0" font-size="28" font-family="Liberation Serif, serif" fill="#222" textLength="36" lengthAdjust="spacingAndGlyphs">Δ<tspan font-style="italic" font-size="25">σ</tspan></text><text x="35" y="11.5" font-size="19" font-weight="bold" font-family="Liberation Sans, sans-serif" fill="#111" textLength="22" lengthAdjust="spacingAndGlyphs">xx</text><text x="58" y="0" font-size="25" font-weight="bold" font-family="Liberation Sans, sans-serif" fill="#111" textLength="39" lengthAdjust="spacingAndGlyphs">(S)</text></g>
<polyline points="190.0,1141.5 195.0,1136.5 264.5,1065.5 285.5,1045.0 300.5,1029.5 317.0,1008.0 333.0,985.5 347.5,967.3 363.5,942.6 381.8,915.1 396.8,890.4 412.3,859.3 427.8,828.2 441.3,800.3 456.7,773.5 462.5,766.6 477.0,766.6 482.6,773.5 490.6,784.2 504.3,812.5 518.4,839.3 532.5,867.5 549.5,900.0 566.8,932.5 583.5,957.9 605.5,985.7 624.5,1007.5 640.0,1025.8 655.7,1047.3 759.5,1148.6" fill="none" stroke="#000" stroke-width="15" stroke-linejoin="round" stroke-linecap="butt"/>
<ellipse cx="459.4" cy="747.3" rx="9.6" ry="9.6" fill="#73f29a" stroke="#14301c" stroke-width="1.4"/>
<ellipse cx="478.9" cy="748" rx="9.6" ry="9.6" fill="#73f29a" stroke="#14301c" stroke-width="1.4"/>
<ellipse cx="443" cy="785.9" rx="9.6" ry="9.6" fill="#73f29a" stroke="#14301c" stroke-width="1.4"/>
<ellipse cx="495.3" cy="784.2" rx="9.6" ry="9.6" fill="#73f29a" stroke="#14301c" stroke-width="1.4"/>
<ellipse cx="513.8" cy="823.1" rx="9.6" ry="9.6" fill="#73f29a" stroke="#14301c" stroke-width="1.4"/>
<ellipse cx="425.5" cy="843.5" rx="9.6" ry="9.6" fill="#73f29a" stroke="#14301c" stroke-width="1.4"/>
<ellipse cx="531.6" cy="864.9" rx="9.6" ry="9.6" fill="#73f29a" stroke="#14301c" stroke-width="1.4"/>
<ellipse cx="407.4" cy="883.7" rx="9.6" ry="9.6" fill="#73f29a" stroke="#14301c" stroke-width="1.4"/>
<ellipse cx="548.4" cy="900.2" rx="9.6" ry="9.6" fill="#73f29a" stroke="#14301c" stroke-width="1.4"/>
<ellipse cx="390.9" cy="914.3" rx="9.6" ry="9.6" fill="#73f29a" stroke="#14301c" stroke-width="1.4"/>
<ellipse cx="567.2" cy="935.7" rx="9.6" ry="9.6" fill="#73f29a" stroke="#14301c" stroke-width="1.4"/>
<ellipse cx="372.2" cy="939.5" rx="9.6" ry="9.6" fill="#73f29a" stroke="#14301c" stroke-width="1.4"/>
<ellipse cx="353.2" cy="967.1" rx="9.6" ry="9.6" fill="#73f29a" stroke="#14301c" stroke-width="1.4"/>
<ellipse cx="337.1" cy="999" rx="9.6" ry="9.6" fill="#73f29a" stroke="#14301c" stroke-width="1.4"/>
<ellipse cx="319" cy="1023.8" rx="9.6" ry="9.6" fill="#73f29a" stroke="#14301c" stroke-width="1.4"/>
<ellipse cx="302.2" cy="1041.9" rx="9.6" ry="9.6" fill="#73f29a" stroke="#14301c" stroke-width="1.4"/>
<ellipse cx="292.3" cy="1052.4" rx="9.6" ry="9.6" fill="#73f29a" stroke="#14301c" stroke-width="1.4"/>
<ellipse cx="189.9" cy="1143.3" rx="9.6" ry="9.6" fill="#73f29a" stroke="#14301c" stroke-width="1.4"/>
<ellipse cx="583.8" cy="962.6" rx="9.6" ry="9.6" fill="#73f29a" stroke="#14301c" stroke-width="1.4"/>
<ellipse cx="601.9" cy="983.3" rx="9.6" ry="9.6" fill="#73f29a" stroke="#14301c" stroke-width="1.4"/>
<ellipse cx="620.7" cy="1005.4" rx="9.6" ry="9.6" fill="#73f29a" stroke="#14301c" stroke-width="1.4"/>
<ellipse cx="637.8" cy="1027.8" rx="9.6" ry="9.6" fill="#73f29a" stroke="#14301c" stroke-width="1.4"/>
<ellipse cx="646.4" cy="1039.3" rx="9.6" ry="9.6" fill="#73f29a" stroke="#14301c" stroke-width="1.4"/>
<ellipse cx="754.1" cy="1138.8" rx="9.6" ry="9.6" fill="#73f29a" stroke="#14301c" stroke-width="1.4"/>
<rect x="620.3" y="694" width="185" height="60.7" rx="2.5" fill="#fff" stroke="#444" stroke-width="1.6"/>
<rect x="625.4" y="704" width="77" height="14" fill="#000"/>
<text x="702.5" y="718.5" font-size="18.5" font-weight="bold" text-anchor="start" font-family="Liberation Sans, sans-serif" fill="#111" textLength="68.5" lengthAdjust="spacingAndGlyphs" >HLN fit</text>
<ellipse cx="664.9" cy="738.6" rx="11" ry="10" fill="#73f29a" stroke="#1c2b1f" stroke-width="1.2"/>
<text x="701.6" y="746.8" font-size="18.5" font-weight="bold" text-anchor="start" font-family="Liberation Sans, sans-serif" fill="#111" textLength="95.2" lengthAdjust="spacingAndGlyphs" >Exp. Data</text>
<text x="122.6" y="724.8" font-size="61" font-weight="bold" text-anchor="start" font-family="Liberation Serif, serif" fill="#000" textLength="33.5" lengthAdjust="spacingAndGlyphs" >b</text>
<text x="156.5" y="731" font-size="72" font-weight="bold" text-anchor="start" font-family="Liberation Serif, serif" fill="#000" textLength="22" lengthAdjust="spacingAndGlyphs" >)</text>
<text x="388" y="1001.7" font-size="42" font-weight="bold" text-anchor="start" font-family="Liberation Serif, serif" fill="#000" textLength="105.4" lengthAdjust="spacingAndGlyphs" >T=2K</text>
<text x="383" y="1085" font-size="42" font-family="Liberation Serif, serif"><tspan font-style="italic" stroke="#000" stroke-width="0.5">l</tspan></text>
<text x="395" y="1097" font-size="31" font-family="Liberation Serif, serif">ϕ</text>
<text x="414" y="1085" font-size="42" font-weight="bold" text-anchor="start" font-family="Liberation Serif, serif" fill="#000" textLength="150" lengthAdjust="spacingAndGlyphs" >~470nm</text>
<text x="384.5" y="1174" font-size="42" font-weight="bold" text-anchor="start" font-family="Liberation Serif, serif" fill="#000" textLength="136" lengthAdjust="spacingAndGlyphs" >α~-0.52</text>
<rect x="132" y="1320.4" width="693.7" height="508.5999999999999" fill="none" stroke="#7a7a7a" stroke-width="2"/>
<text x="122" y="1838.4" font-size="19.5" font-weight="bold" text-anchor="end" font-family="Liberation Sans, sans-serif" fill="#1a1a1a" textLength="40" lengthAdjust="spacingAndGlyphs" >200</text>
<line x1="132" y1="1756.345" x2="139" y2="1756.345" stroke="#7a7a7a" stroke-width="1.5" />
<line x1="818.7" y1="1756.345" x2="825.7" y2="1756.345" stroke="#7a7a7a" stroke-width="1.5" />
<text x="122" y="1765.7450000000001" font-size="19.5" font-weight="bold" text-anchor="end" font-family="Liberation Sans, sans-serif" fill="#1a1a1a" textLength="40" lengthAdjust="spacingAndGlyphs" >250</text>
<line x1="132" y1="1683.69" x2="139" y2="1683.69" stroke="#7a7a7a" stroke-width="1.5" />
<line x1="818.7" y1="1683.69" x2="825.7" y2="1683.69" stroke="#7a7a7a" stroke-width="1.5" />
<text x="122" y="1693.0900000000001" font-size="19.5" font-weight="bold" text-anchor="end" font-family="Liberation Sans, sans-serif" fill="#1a1a1a" textLength="40" lengthAdjust="spacingAndGlyphs" >300</text>
<line x1="132" y1="1611.035" x2="139" y2="1611.035" stroke="#7a7a7a" stroke-width="1.5" />
<line x1="818.7" y1="1611.035" x2="825.7" y2="1611.035" stroke="#7a7a7a" stroke-width="1.5" />
<text x="122" y="1620.4350000000002" font-size="19.5" font-weight="bold" text-anchor="end" font-family="Liberation Sans, sans-serif" fill="#1a1a1a" textLength="40" lengthAdjust="spacingAndGlyphs" >350</text>
<line x1="132" y1="1538.38" x2="139" y2="1538.38" stroke="#7a7a7a" stroke-width="1.5" />
<line x1="818.7" y1="1538.38" x2="825.7" y2="1538.38" stroke="#7a7a7a" stroke-width="1.5" />
<text x="122" y="1547.7800000000002" font-size="19.5" font-weight="bold" text-anchor="end" font-family="Liberation Sans, sans-serif" fill="#1a1a1a" textLength="40" lengthAdjust="spacingAndGlyphs" >400</text>
<line x1="132" y1="1465.725" x2="139" y2="1465.725" stroke="#7a7a7a" stroke-width="1.5" />
<line x1="818.7" y1="1465.725" x2="825.7" y2="1465.725" stroke="#7a7a7a" stroke-width="1.5" />
<text x="122" y="1475.125" font-size="19.5" font-weight="bold" text-anchor="end" font-family="Liberation Sans, sans-serif" fill="#1a1a1a" textLength="40" lengthAdjust="spacingAndGlyphs" >450</text>
<line x1="132" y1="1393.07" x2="139" y2="1393.07" stroke="#7a7a7a" stroke-width="1.5" />
<line x1="818.7" y1="1393.07" x2="825.7" y2="1393.07" stroke="#7a7a7a" stroke-width="1.5" />
<text x="122" y="1402.47" font-size="19.5" font-weight="bold" text-anchor="end" font-family="Liberation Sans, sans-serif" fill="#1a1a1a" textLength="40" lengthAdjust="spacingAndGlyphs" >500</text>
<text x="122" y="1329.815" font-size="19.5" font-weight="bold" text-anchor="end" font-family="Liberation Sans, sans-serif" fill="#1a1a1a" textLength="40" lengthAdjust="spacingAndGlyphs" >550</text>
<text x="132.5" y="1860.3" font-size="19.5" font-weight="bold" text-anchor="middle" font-family="Liberation Sans, sans-serif" fill="#1a1a1a" textLength="13" lengthAdjust="spacingAndGlyphs" >0</text>
<line x1="247.57999999999998" y1="1320.4" x2="247.57999999999998" y2="1327.4" stroke="#7a7a7a" stroke-width="1.5" />
<line x1="247.57999999999998" y1="1822" x2="247.57999999999998" y2="1829" stroke="#7a7a7a" stroke-width="1.5" />
<text x="248.07999999999998" y="1860.3" font-size="19.5" font-weight="bold" text-anchor="middle" font-family="Liberation Sans, sans-serif" fill="#1a1a1a" textLength="13" lengthAdjust="spacingAndGlyphs" >2</text>
<line x1="363.15999999999997" y1="1320.4" x2="363.15999999999997" y2="1327.4" stroke="#7a7a7a" stroke-width="1.5" />
<line x1="363.15999999999997" y1="1822" x2="363.15999999999997" y2="1829" stroke="#7a7a7a" stroke-width="1.5" />
<text x="363.65999999999997" y="1860.3" font-size="19.5" font-weight="bold" text-anchor="middle" font-family="Liberation Sans, sans-serif" fill="#1a1a1a" textLength="13" lengthAdjust="spacingAndGlyphs" >4</text>
<line x1="478.74" y1="1320.4" x2="478.74" y2="1327.4" stroke="#7a7a7a" stroke-width="1.5" />
<line x1="478.74" y1="1822" x2="478.74" y2="1829" stroke="#7a7a7a" stroke-width="1.5" />
<text x="479.24" y="1860.3" font-size="19.5" font-weight="bold" text-anchor="middle" font-family="Liberation Sans, sans-serif" fill="#1a1a1a" textLength="13" lengthAdjust="spacingAndGlyphs" >6</text>
<line x1="594.3199999999999" y1="1320.4" x2="594.3199999999999" y2="1327.4" stroke="#7a7a7a" stroke-width="1.5" />
<line x1="594.3199999999999" y1="1822" x2="594.3199999999999" y2="1829" stroke="#7a7a7a" stroke-width="1.5" />
<text x="594.8199999999999" y="1860.3" font-size="19.5" font-weight="bold" text-anchor="middle" font-family="Liberation Sans, sans-serif" fill="#1a1a1a" textLength="13" lengthAdjust="spacingAndGlyphs" >8</text>
<line x1="709.9" y1="1320.4" x2="709.9" y2="1327.4" stroke="#7a7a7a" stroke-width="1.5" />
<line x1="709.9" y1="1822" x2="709.9" y2="1829" stroke="#7a7a7a" stroke-width="1.5" />
<text x="710.4" y="1860.3" font-size="19.5" font-weight="bold" text-anchor="middle" font-family="Liberation Sans, sans-serif" fill="#1a1a1a" textLength="27" lengthAdjust="spacingAndGlyphs" >10</text>
<text x="825.98" y="1860.3" font-size="19.5" font-weight="bold" text-anchor="middle" font-family="Liberation Sans, sans-serif" fill="#1a1a1a" textLength="27" lengthAdjust="spacingAndGlyphs" >12</text>
<text x="479.7" y="1896.5" font-size="23.3" font-weight="bold" text-anchor="middle" font-family="Liberation Sans, sans-serif" fill="#1a1a1a" textLength="56.5" lengthAdjust="spacingAndGlyphs" >T(K)</text>
<g transform="translate(57.5,1619) rotate(-90)"><text x="0" y="0" font-size="23" font-weight="bold" font-family="Liberation Sans, sans-serif" fill="#1a1a1a">L</text><text x="17" y="9" font-size="14" font-style="italic" font-family="Liberation Serif, serif" fill="#333">ϕ</text><text x="26" y="0" font-size="23" font-weight="bold" font-family="Liberation Sans, sans-serif" fill="#1a1a1a" textLength="60" lengthAdjust="spacingAndGlyphs">(nm)</text></g>
<polyline points="216.4,1330.3 247.6,1436.7 276.5,1503.3 305.4,1552.9 334.3,1591.7 363.2,1623.1 392.1,1649.3 420.9,1671.6 449.8,1690.8 478.7,1707.6 507.6,1722.5 536.5,1735.8 565.4,1747.8 594.3,1758.7 623.2,1768.6 652.1,1777.7 681.0,1786.1 709.9,1793.9 738.8,1801.1 748.0,1803.3" fill="none" stroke="#000" stroke-width="15" stroke-linejoin="miter" stroke-linecap="butt"/>
<ellipse cx="247.57999999999998" cy="1436.663" rx="9.2" ry="9.2" fill="#73f29a" stroke="#14301c" stroke-width="1.4"/>
<ellipse cx="363.15999999999997" cy="1611.035" rx="9.2" ry="9.2" fill="#73f29a" stroke="#14301c" stroke-width="1.4"/>
<ellipse cx="478.74" cy="1698.221" rx="9.2" ry="9.2" fill="#73f29a" stroke="#14301c" stroke-width="1.4"/>
<ellipse cx="594.3199999999999" cy="1757.7981" rx="9.2" ry="9.2" fill="#73f29a" stroke="#14301c" stroke-width="1.4"/>
<ellipse cx="709.9" cy="1801.3911" rx="9.2" ry="9.2" fill="#73f29a" stroke="#14301c" stroke-width="1.4"/>
<rect x="580.4" y="1338" width="226.6" height="60.2" rx="2.5" fill="#fff" stroke="#555" stroke-width="1.6"/>
<rect x="585.7" y="1347.8" width="75" height="14" fill="#000"/>
<text x="660.5" y="1362.5" font-size="18.5" font-weight="bold" text-anchor="start" font-family="Liberation Sans, sans-serif" fill="#111" textLength="137.5" lengthAdjust="spacingAndGlyphs" >Power Law Fit</text>
<ellipse cx="623.6" cy="1381.7" rx="10.5" ry="9.7" fill="#73f29a" stroke="#1c2b1f" stroke-width="1.2"/>
<text x="659.8" y="1390" font-size="18.5" font-weight="bold" text-anchor="start" font-family="Liberation Sans, sans-serif" fill="#111" textLength="93" lengthAdjust="spacingAndGlyphs" >Exp. Data</text>
<text x="146.5" y="1384.8" font-size="60" font-weight="bold" text-anchor="start" font-family="Liberation Serif, serif" fill="#000" textLength="31.5" lengthAdjust="spacingAndGlyphs" >c</text>
<text x="177" y="1390" font-size="68" font-weight="bold" text-anchor="start" font-family="Liberation Serif, serif" fill="#000" textLength="24" lengthAdjust="spacingAndGlyphs" >)</text>
<text x="195" y="1735.3" font-size="35" font-weight="bold" font-style="italic" font-family="Liberation Sans, sans-serif">l</text>
<text x="206.5" y="1744.5" font-size="24" font-weight="bold" font-family="Liberation Sans, sans-serif">φ</text>
<text x="225" y="1735.3" font-size="35" font-weight="bold" text-anchor="start" font-family="Liberation Sans, sans-serif" fill="#000" textLength="36.5" lengthAdjust="spacingAndGlyphs" >~T</text>
<text x="263.5" y="1724" font-size="19.5" font-weight="bold" text-anchor="start" font-family="Liberation Sans, sans-serif" fill="#000" textLength="52" lengthAdjust="spacingAndGlyphs" >-0.46</text>
<rect x="458.3" y="1402.2" width="356.2" height="265.39999999999986" fill="#fff" stroke="#000" stroke-width="1.6"/>
<line x1="451.8" y1="1418.0" x2="458.3" y2="1418.0" stroke="#000" stroke-width="1.4" />
<text x="448.5" y="1425.2" font-size="21" font-weight="normal" text-anchor="end" font-family="Liberation Sans, sans-serif" fill="#000" textLength="54" lengthAdjust="spacingAndGlyphs" stroke="#000" stroke-width="0.35">-0.44</text>
<line x1="454.8" y1="1434.6" x2="458.3" y2="1434.6" stroke="#000" stroke-width="1.2" />
<line x1="451.8" y1="1451.18" x2="458.3" y2="1451.18" stroke="#000" stroke-width="1.4" />
<text x="448.5" y="1458.38" font-size="21" font-weight="normal" text-anchor="end" font-family="Liberation Sans, sans-serif" fill="#000" textLength="54" lengthAdjust="spacingAndGlyphs" stroke="#000" stroke-width="0.35">-0.46</text>
<line x1="454.8" y1="1467.78" x2="458.3" y2="1467.78" stroke="#000" stroke-width="1.2" />
<line x1="451.8" y1="1484.36" x2="458.3" y2="1484.36" stroke="#000" stroke-width="1.4" />
<text x="448.5" y="1491.56" font-size="21" font-weight="normal" text-anchor="end" font-family="Liberation Sans, sans-serif" fill="#000" textLength="54" lengthAdjust="spacingAndGlyphs" stroke="#000" stroke-width="0.35">-0.48</text>
<line x1="454.8" y1="1500.9599999999998" x2="458.3" y2="1500.9599999999998" stroke="#000" stroke-width="1.2" />
<line x1="451.8" y1="1517.54" x2="458.3" y2="1517.54" stroke="#000" stroke-width="1.4" />
<text x="448.5" y="1524.74" font-size="21" font-weight="normal" text-anchor="end" font-family="Liberation Sans, sans-serif" fill="#000" textLength="54" lengthAdjust="spacingAndGlyphs" stroke="#000" stroke-width="0.35">-0.50</text>
<line x1="454.8" y1="1534.1399999999999" x2="458.3" y2="1534.1399999999999" stroke="#000" stroke-width="1.2" />
<line x1="451.8" y1="1550.72" x2="458.3" y2="1550.72" stroke="#000" stroke-width="1.4" />
<text x="448.5" y="1557.92" font-size="21" font-weight="normal" text-anchor="end" font-family="Liberation Sans, sans-serif" fill="#000" textLength="54" lengthAdjust="spacingAndGlyphs" stroke="#000" stroke-width="0.35">-0.52</text>
<line x1="454.8" y1="1567.32" x2="458.3" y2="1567.32" stroke="#000" stroke-width="1.2" />
<line x1="451.8" y1="1583.9" x2="458.3" y2="1583.9" stroke="#000" stroke-width="1.4" />
<text x="448.5" y="1591.1000000000001" font-size="21" font-weight="normal" text-anchor="end" font-family="Liberation Sans, sans-serif" fill="#000" textLength="54" lengthAdjust="spacingAndGlyphs" stroke="#000" stroke-width="0.35">-0.54</text>
<line x1="454.8" y1="1600.5" x2="458.3" y2="1600.5" stroke="#000" stroke-width="1.2" />
<line x1="451.8" y1="1617.0800000000002" x2="458.3" y2="1617.0800000000002" stroke="#000" stroke-width="1.4" />
<text x="448.5" y="1624.2800000000002" font-size="21" font-weight="normal" text-anchor="end" font-family="Liberation Sans, sans-serif" fill="#000" textLength="54" lengthAdjust="spacingAndGlyphs" stroke="#000" stroke-width="0.35">-0.56</text>
<line x1="454.8" y1="1633.68" x2="458.3" y2="1633.68" stroke="#000" stroke-width="1.2" />
<line x1="451.8" y1="1650.2600000000002" x2="458.3" y2="1650.2600000000002" stroke="#000" stroke-width="1.4" />
<text x="448.5" y="1657.4600000000003" font-size="21" font-weight="normal" text-anchor="end" font-family="Liberation Sans, sans-serif" fill="#000" textLength="54" lengthAdjust="spacingAndGlyphs" stroke="#000" stroke-width="0.35">-0.58</text>
<line x1="454.8" y1="1401.41" x2="458.3" y2="1401.41" stroke="#000" stroke-width="1.2" />
<line x1="478.4" y1="1667.6" x2="478.4" y2="1674.1" stroke="#000" stroke-width="1.4" />
<text x="478.7" y="1692.8" font-size="20.5" font-weight="normal" text-anchor="middle" font-family="Liberation Sans, sans-serif" fill="#000" textLength="11.5" lengthAdjust="spacingAndGlyphs" stroke="#000" stroke-width="0.35">2</text>
<line x1="517.6999999999999" y1="1667.6" x2="517.6999999999999" y2="1671.1" stroke="#000" stroke-width="1.2" />
<line x1="557.0" y1="1667.6" x2="557.0" y2="1674.1" stroke="#000" stroke-width="1.4" />
<text x="557.3" y="1692.8" font-size="20.5" font-weight="normal" text-anchor="middle" font-family="Liberation Sans, sans-serif" fill="#000" textLength="11.5" lengthAdjust="spacingAndGlyphs" stroke="#000" stroke-width="0.35">4</text>
<line x1="596.3" y1="1667.6" x2="596.3" y2="1671.1" stroke="#000" stroke-width="1.2" />
<line x1="635.5999999999999" y1="1667.6" x2="635.5999999999999" y2="1674.1" stroke="#000" stroke-width="1.4" />
<text x="635.8999999999999" y="1692.8" font-size="20.5" font-weight="normal" text-anchor="middle" font-family="Liberation Sans, sans-serif" fill="#000" textLength="11.5" lengthAdjust="spacingAndGlyphs" stroke="#000" stroke-width="0.35">6</text>
<line x1="674.9" y1="1667.6" x2="674.9" y2="1671.1" stroke="#000" stroke-width="1.2" />
<line x1="714.1999999999999" y1="1667.6" x2="714.1999999999999" y2="1674.1" stroke="#000" stroke-width="1.4" />
<text x="714.4999999999999" y="1692.8" font-size="20.5" font-weight="normal" text-anchor="middle" font-family="Liberation Sans, sans-serif" fill="#000" textLength="11.5" lengthAdjust="spacingAndGlyphs" stroke="#000" stroke-width="0.35">8</text>
<line x1="753.5" y1="1667.6" x2="753.5" y2="1671.1" stroke="#000" stroke-width="1.2" />
<line x1="792.8" y1="1667.6" x2="792.8" y2="1674.1" stroke="#000" stroke-width="1.4" />
<text x="793.0999999999999" y="1692.8" font-size="20.5" font-weight="normal" text-anchor="middle" font-family="Liberation Sans, sans-serif" fill="#000" textLength="21.5" lengthAdjust="spacingAndGlyphs" stroke="#000" stroke-width="0.35">10</text>
<text x="633" y="1720" font-size="23.5" font-weight="normal" text-anchor="middle" font-family="Liberation Sans, sans-serif" fill="#000" textLength="46" lengthAdjust="spacingAndGlyphs" stroke="#000" stroke-width="0.3">T(K)</text>
<text transform="translate(385,1541.5) rotate(-90)" font-size="25" text-anchor="middle" font-family="Liberation Sans, sans-serif">α</text>
<ellipse cx="478.7" cy="1550.72" rx="9.8" ry="8.9" fill="#000"/>
<ellipse cx="557.3" cy="1500.95" rx="9.8" ry="8.9" fill="#000"/>
<ellipse cx="635.8999999999999" cy="1565.651" rx="9.8" ry="8.9" fill="#000"/>
<ellipse cx="793.0999999999999" cy="1574.7755" rx="9.8" ry="8.9" fill="#000"/>
<ellipse cx="478.74" cy="1698.221" rx="9.3" ry="9.3" fill="#73f29a" stroke="#14301c" stroke-width="1.4"/>
</svg>
</body></html>
